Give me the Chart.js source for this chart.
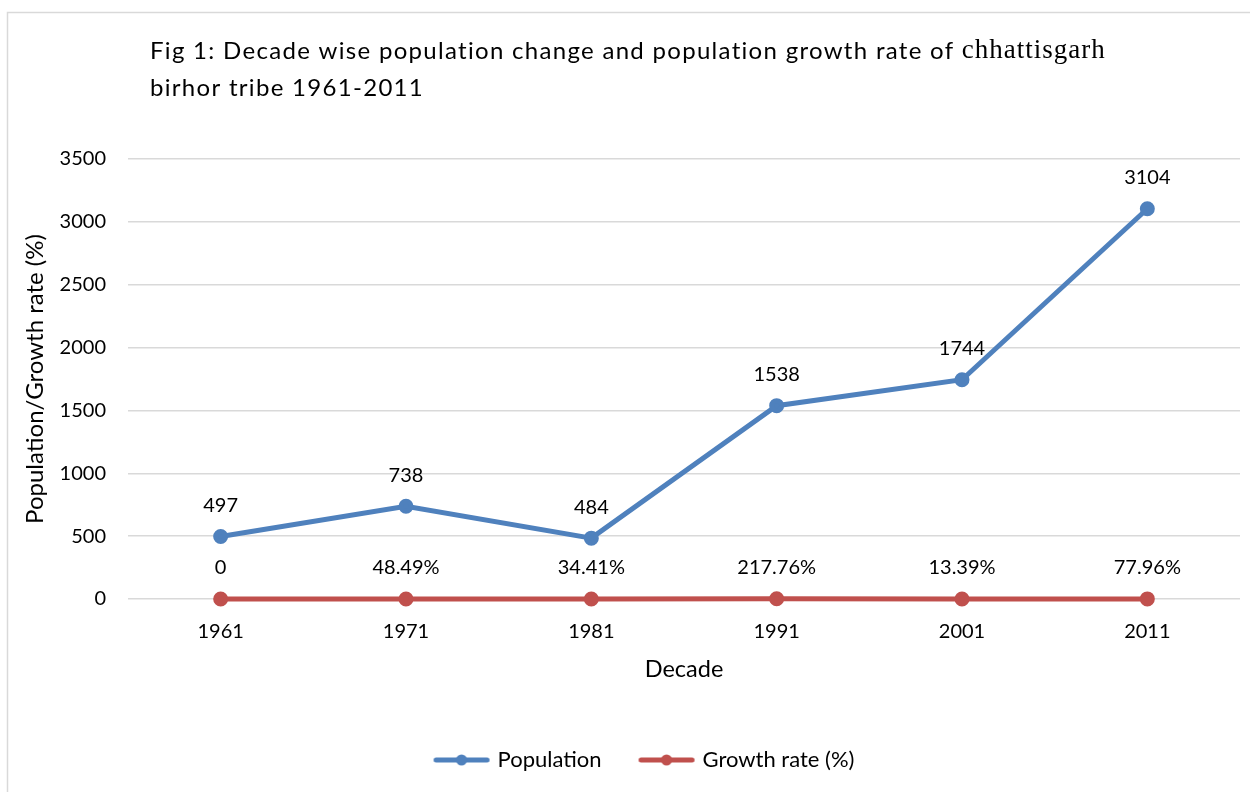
<!DOCTYPE html>
<html>
<head>
<meta charset="utf-8">
<script src="https://cdn.jsdelivr.net/npm/chart.js@4"></script>
<style>
html,body{margin:0;padding:0;background:#fff;}
#wrap{width:1250px;height:792px;position:relative;}
</style>
</head>
<body>
<div id="wrap"><canvas id="c" width="1250" height="792"></canvas></div>
<script>
const decades = ['1961','1971','1981','1991','2001','2011'];
const population = [497, 738, 484, 1538, 1744, 3104];
const growthRate = [0, 0.4849, 0.3441, 2.1776, 0.1339, 0.7796];
const growthLabels = ['0', '48.49%', '34.41%', '217.76%', '13.39%', '77.96%'];
const yTicks = [0, 500, 1000, 1500, 2000, 2500, 3000, 3500];
const titleLine1a = 'Fig 1: Decade wise population change and population growth rate of ';
const titleLine1b = 'chhattisgarh';
const titleLine2 = 'birhor tribe 1961-2011';

const FONT = 'Lato, "Open Sans", sans-serif';
const BLUE = '#4f81bd';
const RED = '#c0504d';

function legendIcon(color){
  // 94 px wide image drawn centred on an 80 px legend box
  const cv = document.createElement('canvas');
  cv.width = 94; cv.height = 12;
  const g = cv.getContext('2d');
  g.strokeStyle = color; g.lineWidth = 5; g.lineCap = 'round';
  g.beginPath(); g.moveTo(36.5,6); g.lineTo(87.5,6); g.stroke();
  g.fillStyle = color;
  g.beginPath(); g.arc(62,6,5.5,0,Math.PI*2); g.fill();
  return cv;
}

const framePlugin = {
  id: 'frame',
  beforeDraw(chart){
    const ctx = chart.ctx;
    ctx.save();
    ctx.fillStyle = '#fff';
    ctx.fillRect(0,0,chart.width,chart.height);
    ctx.strokeStyle = '#d9d9d9';
    ctx.lineWidth = 1.5;
    ctx.beginPath();
    ctx.moveTo(7.5, chart.height + 2);
    ctx.lineTo(7.5, 12.5);
    ctx.lineTo(chart.width + 2, 12.5);
    ctx.stroke();
    ctx.restore();
  }
};

const titlePlugin = {
  id: 'mixedTitle',
  afterDraw(chart){
    const ctx = chart.ctx;
    ctx.save();
    ctx.fillStyle = '#000';
    ctx.textBaseline = 'middle';
    ctx.textAlign = 'left';
    ctx.font = '24px ' + FONT;
    ctx.letterSpacing = '1.3px';
    const x0 = 150;
    ctx.fillText(titleLine1a, x0, 51);
    const w = ctx.measureText(titleLine1a).width;
    ctx.font = '27px "Liberation Serif", "Times New Roman", serif';
    ctx.letterSpacing = '1px';
    ctx.fillText(titleLine1b, x0 + w, 51);
    ctx.font = '24px ' + FONT;
    ctx.letterSpacing = '1.3px';
    ctx.fillText(titleLine2, x0, 88);
    ctx.restore();
  }
};

const labelPlugin = {
  id: 'pointLabels',
  afterDatasetsDraw(chart){
    const ctx = chart.ctx;
    ctx.save();
    ctx.fillStyle = '#000';
    ctx.font = '20px ' + FONT;
    ctx.textAlign = 'center';
    ctx.textBaseline = 'middle';
    chart.data.datasets.forEach((ds, di) => {
      const meta = chart.getDatasetMeta(di);
      meta.data.forEach((pt, i) => {
        const txt = ds.pointLabels ? ds.pointLabels[i] : String(ds.data[i]);
        ctx.fillText(txt, pt.x, pt.y - 31);
      });
    });
    ctx.restore();
  }
};

new Chart(document.getElementById('c'), {
  type: 'line',
  data: {
    labels: decades,
    datasets: [
      {
        label: 'Population',
        data: population,
        borderColor: BLUE,
        backgroundColor: BLUE,
        borderWidth: 5,
        pointRadius: 5,
        pointBackgroundColor: BLUE,
        pointBorderColor: BLUE,
        clip: 10,
        tension: 0
      },
      {
        label: 'Growth rate (%)',
        data: growthRate,
        pointLabels: growthLabels,
        borderColor: RED,
        backgroundColor: RED,
        borderWidth: 5,
        pointRadius: 5,
        pointBackgroundColor: RED,
        pointBorderColor: RED,
        clip: 10,
        tension: 0
      }
    ]
  },
  options: {
    responsive: false,
    animation: false,
    devicePixelRatio: 1,
    layout: { padding: { top: 159, left: 21, right: 10, bottom: 11 } },
    elements: { point: { pointStyle: 'circle' } },
    plugins: {
      title: { display: false },
      tooltip: { enabled: false },
      legend: {
        position: 'bottom',
        labels: {
          font: { family: FONT, size: 22 },
          color: '#000',
          usePointStyle: true,
          pointStyleWidth: 80,
          boxHeight: 22,
          padding: 10,
          generateLabels(chart){
            return chart.data.datasets.map((ds, i) => ({
              text: ds.label,
              pointStyle: legendIcon(ds.borderColor),
              fillStyle: ds.borderColor,
              strokeStyle: ds.borderColor,
              lineWidth: 0,
              hidden: false,
              datasetIndex: i,
              fontColor: '#000'
            }));
          }
        }
      }
    },
    scales: {
      x: {
        offset: true,
        grid: { display: false, drawTicks: false },
        border: { display: false },
        ticks: { font: { family: FONT, size: 20 }, color: '#000', padding: 21 },
        title: { display: true, text: 'Decade', font: { family: FONT, size: 23.5 }, color: '#000', padding: { top: 0, bottom: 55 } },
        afterFit(s){ s.height = 140; }
      },
      y: {
        min: 0,
        max: 3500,
        afterBuildTicks(s){ s.ticks = yTicks.map(v => ({ value: v })); },
        grid: { color: '#d9d9d9', lineWidth: 1.5, drawTicks: false },
        border: { display: false },
        ticks: { font: { family: FONT, size: 20 }, color: '#000', padding: 22, callback: v => String(v) },
        title: { display: true, text: 'Population/Growth rate (%)', font: { family: FONT, size: 24 }, color: '#000', padding: { top: 0, bottom: 0 } },
        afterFit(s){ s.width = 107; }
      }
    }
  },
  plugins: [framePlugin, titlePlugin, labelPlugin]
});
</script>
</body>
</html>
